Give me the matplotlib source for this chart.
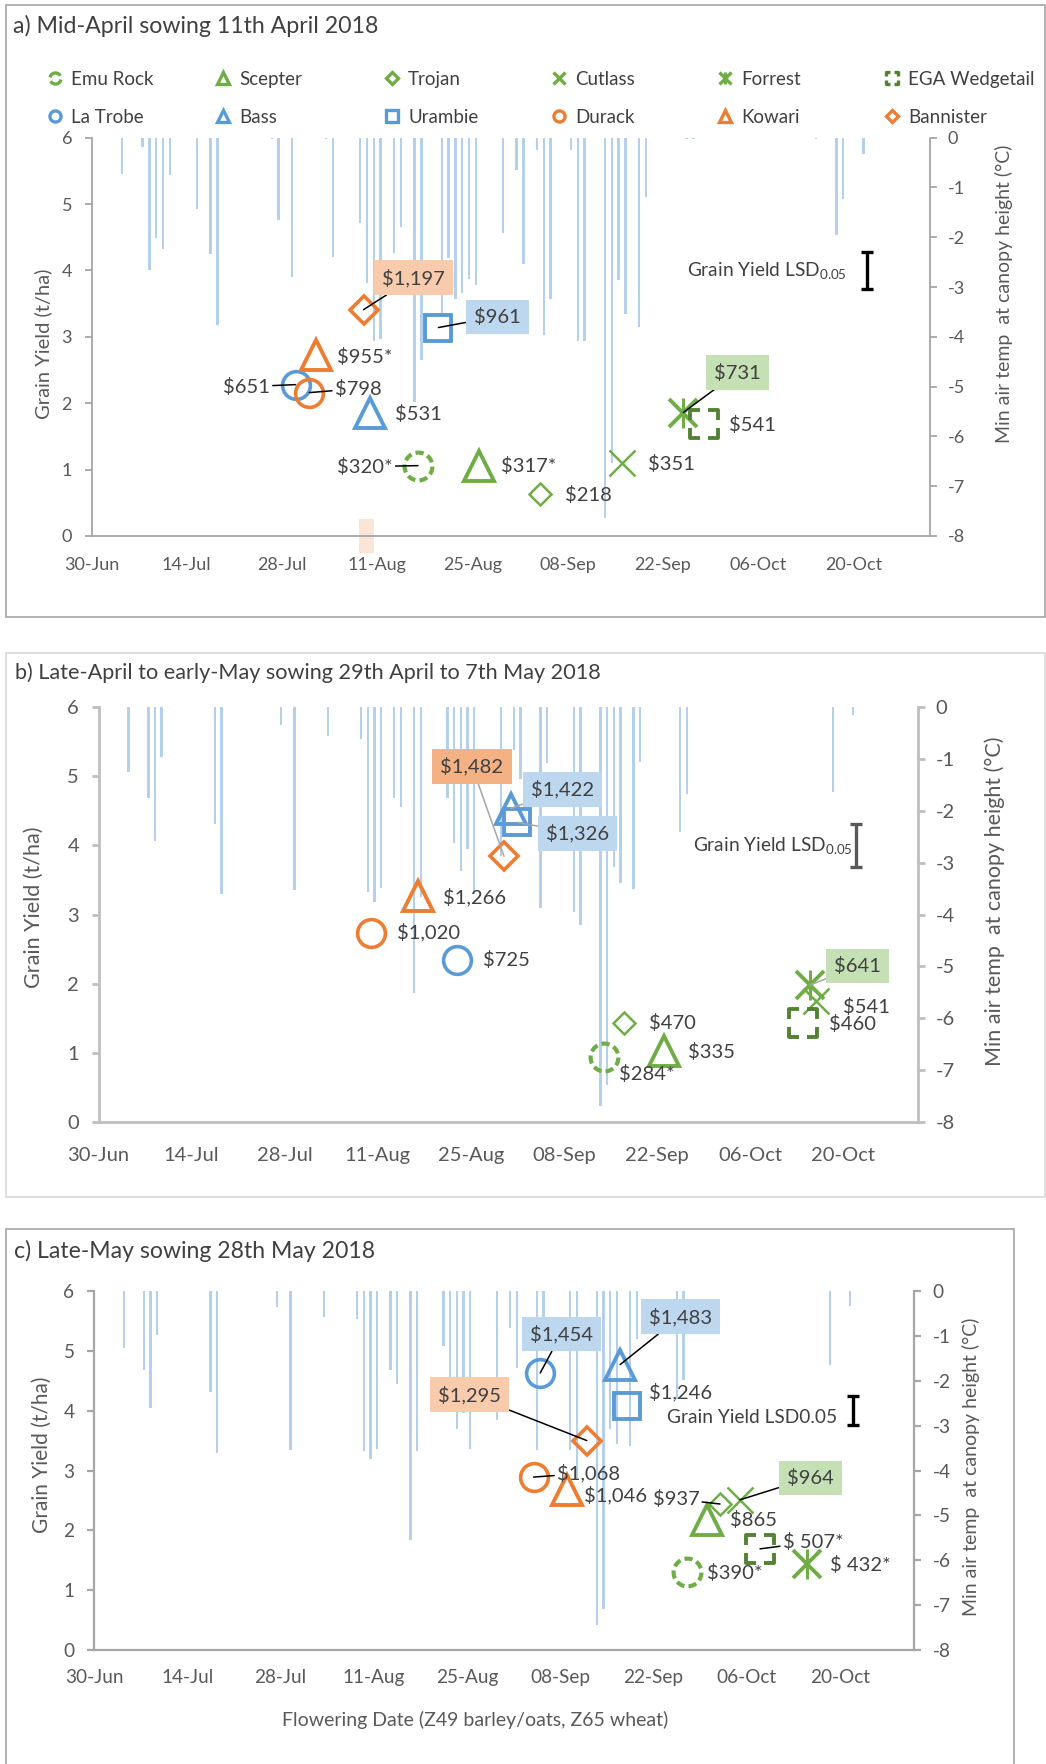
import numpy as np
import matplotlib
matplotlib.use('Agg')
import matplotlib.pyplot as plt
from matplotlib.path import Path
from matplotlib.lines import Line2D
from matplotlib.patches import Rectangle

plt.rcParams['font.family'] = ['Lato', 'DejaVu Sans']
plt.rcParams['mathtext.default'] = 'regular'
plt.rcParams['axes.unicode_minus'] = False

# x axis is days counted from 30 June 2018
tick_days = [0, 14, 28, 42, 56, 70, 84, 98, 112]
tick_labels = ['30-Jun', '14-Jul', '28-Jul', '11-Aug', '25-Aug', '08-Sep', '22-Sep', '06-Oct', '20-Oct']

varieties = ['Emu Rock', 'Scepter', 'Trojan', 'Cutlass', 'Forrest', 'EGA Wedgetail',
             'La Trobe', 'Bass', 'Urambie', 'Durack', 'Kowari', 'Bannister']

# a) mid-April sowing
flower_a = [48, 57, 66, 78, 87, 90, 30, 41, 51, 32, 33, 40]
yield_a = [1.06, 1.05, 0.64, 1.10, 1.86, 1.69, 2.28, 1.85, 3.14, 2.16, 2.72, 3.41]
return_a = ['$320*', '$317*', '$218', '$351', '$731', '$541', '$651', '$531', '$961', '$798', '$955*', '$1,197']
frost_day_a = [4, 7, 8, 9, 10, 11, 15, 17, 18, 26, 27, 29, 34, 35, 39, 40, 41, 42, 44, 45, 47, 48,
               51, 52, 53, 54, 55, 56, 60, 62, 63, 65, 66, 67, 70, 71, 72, 75, 76, 77, 78, 80, 81,
               87, 88, 106, 109, 110, 113]
frost_temp_a = [-0.72, -0.19, -2.65, -2.01, -2.23, -0.75, -1.44, -2.33, -3.77, -0.03, -1.65, -2.8,
                -0.03, -2.39, -1.71, -2.92, -4.09, -4.05, -2.32, -1.8, -5.31, -4.47, -3.6, -2.41,
                -3.23, -3.12, -2.84, -2.96, -1.92, -0.64, -2.53, -0.25, -3.97, -3.23, -0.25, -4.09,
                -4.09, -7.64, -6.53, -2.85, -3.55, -3.81, -1.2, -0.03, -0.03, -0.03, -1.96, -1.24, -0.33]
lsd_a = 0.56

# b) late-April to early-May sowing
flower_b = [76, 85, 79, 108, 107, 106, 54, 62, 63, 41, 48, 61]
yield_b = [0.94, 1.03, 1.44, 1.75, 1.98, 1.43, 2.35, 4.53, 4.33, 2.74, 3.27, 3.84]
return_b = ['$284*', '$335', '$470', '$541', '$641', '$460', '$725', '$1,422', '$1,326', '$1,020', '$1,266', '$1,482']
frost_day_b = [4, 7, 8, 9, 17, 18, 27, 29, 34, 39, 40, 41, 42, 44, 45, 47, 48, 52, 53, 54, 55, 56,
               60, 62, 63, 66, 67, 71, 72, 75, 76, 77, 78, 80, 81, 87, 88, 110, 113]
frost_temp_b = [-1.25, -1.76, -2.59, -0.97, -2.25, -3.61, -0.35, -3.53, -0.56, -0.63, -3.56, -3.76,
                -3.49, -1.76, -1.93, -5.52, -3.67, -1.76, -2.63, -3.17, -2.73, -3.6, -2.87, -0.84,
                -1.39, -3.87, -1.08, -3.95, -4.2, -7.68, -7.29, -3.08, -3.4, -3.51, -1.07, -2.41,
                -1.68, -1.64, -0.16]
lsd_b = 0.62

# c) late-May sowing
flower_c = [89, 92, 94, 97, 107, 100, 67, 79, 80, 66, 71, 74]
yield_c = [1.30, 2.18, 2.44, 2.51, 1.43, 1.69, 4.63, 4.77, 4.07, 2.89, 2.68, 3.50]
return_c = ['$390*', '$865', '$937', '$964', '$ 432*', '$ 507*', '$1,454', '$1,483', '$1,246', '$1,068', '$1,046', '$1,295']
frost_day_c = [4, 7, 8, 9, 17, 18, 27, 29, 34, 39, 40, 41, 42, 44, 45, 47, 48, 52, 53, 54, 55, 56,
               60, 62, 63, 66, 67, 71, 72, 75, 76, 77, 78, 80, 81, 87, 88, 110, 113]
frost_temp_c = [-1.27, -1.77, -2.6, -0.99, -2.25, -3.61, -0.36, -3.55, -0.57, -0.63, -3.56, -3.75,
                -3.51, -1.77, -2.08, -5.55, -3.56, -1.23, -2.63, -3.08, -2.71, -3.52, -2.87, -0.83,
                -1.72, -3.55, -1.08, -3.55, -4.2, -7.45, -7.08, -3.08, -3.4, -3.45, -1.07, -2.41,
                -1.99, -1.65, -0.33]
lsd_c = 0.48

W, H = 1046, 1764
blue, orange, green, dkgreen = '#5B9BD5', '#ED7D31', '#70AD47', '#548235'
frost_col = '#B4D0EC'
txt = '#404040'


def dashed_circle(n=7, frac=0.66, rot=0.3):
    verts, codes = [], []
    for i in range(n):
        t = (np.linspace(0, frac, 12) + i) * 2 * np.pi / n + rot
        verts += list(zip(np.cos(t), np.sin(t)))
        codes += [Path.MOVETO] + [Path.LINETO] * 11
    return Path(verts, codes)


def dashed_square(d=0.36):
    verts, codes = [], []
    for cx, cy in [(-1, -1), (1, -1), (1, 1), (-1, 1)]:
        verts += [(cx, cy - cy * 2 * d), (cx, cy), (cx - cx * 2 * d, cy)]
        codes += [Path.MOVETO, Path.LINETO, Path.LINETO]
    return Path(verts, codes)


circ_dash = dashed_circle()
sq_dash = dashed_square()

looks = {
    'Emu Rock': [dict(marker=circ_dash, ms=20, mew=3.0, mec=green)],
    'Scepter': [dict(marker='^', ms=21, mew=2.8, mec=green)],
    'Trojan': [dict(marker='D', ms=11, mew=1.8, mec=green)],
    'Cutlass': [dict(marker='x', ms=19, mew=1.8, mec=green)],
    'Forrest': [dict(marker='x', ms=20, mew=2.8, mec=green), dict(marker='|', ms=22, mew=2.2, mec=green)],
    'EGA Wedgetail': [dict(marker=sq_dash, ms=20, mew=2.8, mec=dkgreen)],
    'La Trobe': [dict(marker='o', ms=20, mew=2.6, mec=blue)],
    'Bass': [dict(marker='^', ms=21, mew=2.8, mec=blue)],
    'Urambie': [dict(marker='s', ms=19, mew=2.8, mec=blue)],
    'Durack': [dict(marker='o', ms=20, mew=2.6, mec=orange)],
    'Kowari': [dict(marker='^', ms=21, mew=2.8, mec=orange)],
    'Bannister': [dict(marker='D', ms=14, mew=2.6, mec=orange)],
}
legend_override = {'Emu Rock': dashed_circle(n=2, frac=0.78, rot=0.5)}

# label offsets in pixels from each marker (dx, dy up)
offs_a = [(-53, -1), (49, 0), (48, -1), (49, -1), (54, 40), (49, -1),
          (-49, -2), (48, -1), (59, 11), (49, 4), (49, -2), (50, 32)]
offs_b = [(43, -17), (48, -1), (49, 0), (50, -6), (48, 19), (49, -1),
          (49, 0), (52, 19), (60, -11), (58, 0), (57, -1), (-32, 90)]
offs_c = [(48, -1), (47, 0), (-44, 5), (70, 22), (54, -1), (53, 7),
          (21, 39), (60, 48), (54, 14), (55, 4), (49, -5), (-117, 46)]

panels = [
    dict(title='a) Mid-April sowing 11th April 2018', title_xy=(13, 26), title_fs=16.7,
         rect=[91.5, 137.7, 929.5, 536], frame=[6, 5, 1045, 617], frame_col='#A6A6A6',
         flower=flower_a, yld=yield_a, ret=return_a, fd=frost_day_a, ft=frost_temp_a, lsd=lsd_a,
         offs=offs_a, leaders=['Emu Rock', 'Forrest', 'La Trobe', 'Urambie', 'Durack', 'Bannister'],
         boxes={'Forrest': '#C5E0B4', 'Urambie': '#BDD7EE', 'Bannister': '#F8CBAD'},
         lead_col='black', lsd_col='black', lsd_text='Grain Yield LSD$_{0.05}$', lsd_off=(-20, 0),
         spine='#A6A6A6', spw=1.3, xt_fs=13, yt_fs=13, xpad=15, lab_fs=14.5, lab2_fs=14,
         ylab_xy=(-0.058, 0.482), y2lab_xy=(1.089, 0.608)),
    dict(title='b) Late-April to early-May sowing 29th April to 7th May 2018', title_xy=(15, 673),
         title_fs=15.6,
         rect=[98.5, 706.7, 917.5, 1122.3], frame=[6, 653, 1045, 1197], frame_col='#D9D9D9',
         flower=flower_b, yld=yield_b, ret=return_b, fd=frost_day_b, ft=frost_temp_b, lsd=lsd_b,
         offs=offs_b, leaders=['Forrest', 'Bass', 'Urambie', 'Bannister'],
         boxes={'Forrest': '#C5E0B4', 'Bass': '#BDD7EE', 'Urambie': '#BDD7EE', 'Bannister': '#F4B183'},
         lead_col='#A6A6A6', lsd_col='#595959', lsd_text='Grain Yield LSD$_{0.05}$', lsd_off=(-4, 0),
         spine='#BFBFBF', spw=2, xt_fs=14.5, yt_fs=14.5, xpad=18, lab_fs=15.5, lab2_fs=15.5,
         ylab_xy=(-0.079, 0.518), y2lab_xy=(1.094, 0.531)),
    dict(title='c) Late-May sowing 28th May 2018', title_xy=(14, 1251), title_fs=16.6,
         rect=[94, 1291, 914.5, 1650], frame=[6, 1229, 1014, 1780], frame_col='#A6A6A6',
         flower=flower_c, yld=yield_c, ret=return_c, fd=frost_day_c, ft=frost_temp_c, lsd=lsd_c,
         offs=offs_c, leaders=['Trojan', 'Cutlass', 'EGA Wedgetail', 'La Trobe', 'Bass', 'Durack', 'Bannister'],
         boxes={'Cutlass': '#C5E0B4', 'La Trobe': '#BDD7EE', 'Bass': '#BDD7EE', 'Bannister': '#F8CBAD'},
         lead_col='black', lsd_col='black', lsd_text='Grain Yield LSD0.05', lsd_off=(-16, -7),
         spine='#A6A6A6', spw=1.6, xt_fs=13.7, yt_fs=13.7, xpad=14, lab_fs=15, lab2_fs=14,
         ylab_xy=(-0.063, 0.543), y2lab_xy=(1.069, 0.511)),
]

fig = plt.figure(figsize=(W / 100, H / 100), dpi=100)

for p in panels:
    x0, y0, x1, y1 = p['frame']
    fig.add_artist(Rectangle((x0 / W, 1 - y1 / H), (x1 - x0) / W, (y1 - y0) / H,
                             transform=fig.transFigure, fill=False, ec=p['frame_col'], lw=1.2))
    fig.text(p['title_xy'][0] / W, 1 - p['title_xy'][1] / H, p['title'], fontsize=p['title_fs'],
             color=txt, va='center', ha='left')

    l, t, r, b = p['rect']
    ax = fig.add_axes([l / W, 1 - b / H, (r - l) / W, (b - t) / H])
    ax2 = ax.twinx()
    ax.set_zorder(ax2.get_zorder() + 1)
    ax.patch.set_visible(False)

    # frost bars, hanging from 0 on the right axis
    ax2.bar(np.array(p['fd']) + 0.5, p['ft'], width=0.35, color=frost_col, zorder=1)
    ax2.set_ylim(-8, 0)
    ax2.set_yticks(range(-8, 1))
    ax2.set_yticklabels([str(v) for v in range(-8, 1)])

    ax.set_xlim(0, 123.2)
    ax.set_ylim(0, 6)
    ax.set_yticks(range(7))
    ax.set_xticks(tick_days, tick_labels)

    for s in ['top', 'right']:
        ax.spines[s].set_visible(False)
    for s in ['top', 'left', 'bottom']:
        ax2.spines[s].set_visible(False)
    for s in [ax.spines['left'], ax.spines['bottom'], ax2.spines['right']]:
        s.set_color(p['spine'])
        s.set_linewidth(p['spw'])

    ax.tick_params(axis='x', length=0, pad=p['xpad'], labelsize=p['xt_fs'], labelcolor='#595959')
    ax.tick_params(axis='y', length=5, width=p['spw'], color=p['spine'], pad=9,
                   labelsize=p['yt_fs'], labelcolor='#595959')
    ax2.tick_params(axis='y', length=5, width=p['spw'], color=p['spine'], pad=8,
                    labelsize=p['yt_fs'], labelcolor='#595959')

    ax.set_ylabel('Grain Yield (t/ha)', fontsize=p['lab_fs'], color='#595959', va='center')
    ax.yaxis.set_label_coords(*p['ylab_xy'])
    ax2.set_ylabel('Min air temp  at canopy height (°C)', fontsize=p['lab2_fs'], color='#595959',
                   va='center', rotation=90)
    ax2.yaxis.set_label_coords(*p['y2lab_xy'])

    # varieties
    for i, name in enumerate(varieties):
        for lk in looks[name]:
            ax.plot([p['flower'][i]], [p['yld'][i]], ls='none', mfc='none', zorder=3, **lk)
        kw = {}
        if name in p['boxes']:
            kw['bbox'] = dict(boxstyle='square,pad=0.4', fc=p['boxes'][name], ec='none')
        if name in p['leaders']:
            kw['arrowprops'] = dict(arrowstyle='-', color=p['lead_col'], lw=1.1, shrinkA=0, shrinkB=0)
        ax.annotate(p['ret'][i], xy=(p['flower'][i], p['yld'][i]), xytext=p['offs'][i],
                    textcoords='offset pixels', ha='center', va='center', fontsize=14.5,
                    color=txt, zorder=5, **kw)

    # LSD bar
    ax.errorbar([114], [4.0], yerr=[p['lsd'] / 2], fmt='none', ecolor=p['lsd_col'],
                elinewidth=2.4, capsize=4.5, capthick=2.4, zorder=4)
    ax.annotate(p['lsd_text'], xy=(114, 4.0), xytext=p['lsd_off'], textcoords='offset pixels',
                ha='right', va='center', fontsize=13.8, color=txt)

    if p['title'].startswith('a'):
        ax.add_patch(Rectangle((39.3, -0.26), 2.3, 0.52, fc='#FBE5D6', ec='none',
                               clip_on=False, zorder=0))
        # legend: six columns of two rows
        col_x = [54.7, 223, 392, 559, 725, 892]
        for c in range(6):
            hs, ls = [], []
            for name in (varieties[c], varieties[c + 6]):
                parts = []
                for lk in looks[name]:
                    k = dict(lk)
                    k['marker'] = legend_override.get(name, k['marker'])
                    k['ms'] = 8 if k['marker'] != 'D' else 6
                    k['mew'] = 2.4
                    parts.append(Line2D([], [], ls='none', mfc='none', **k))
                hs.append(tuple(parts) if len(parts) > 1 else parts[0])
                ls.append(name)
            fig.legend(hs, ls, loc='center left', bbox_to_anchor=((col_x[c] - 5.5) / W, 1 - 98.5 / H),
                       frameon=False, fontsize=13.5, handlelength=0.6, handletextpad=0.55,
                       labelspacing=1.12, borderpad=0, borderaxespad=0, labelcolor=txt)
    if p['title'].startswith('c'):
        ax.set_xlabel('Flowering Date (Z49 barley/oats, Z65 wheat)', fontsize=14, color='#595959',
                      va='center')
        ax.xaxis.set_label_coords(0.464, -0.195)

fig.savefig('out.png', dpi=100)
